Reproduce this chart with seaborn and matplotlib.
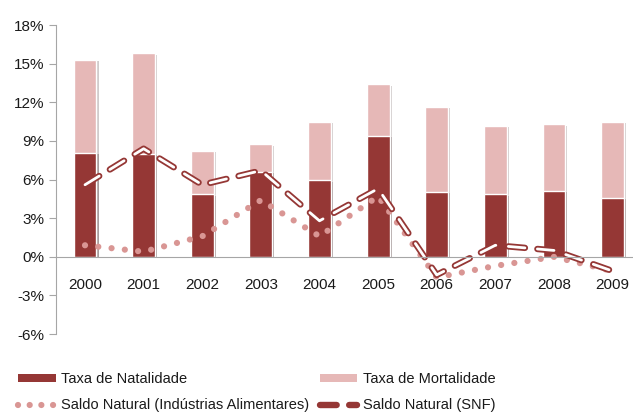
import numpy as np
import pandas as pd
import seaborn as sns
import matplotlib
matplotlib.use('Agg')
import matplotlib.pyplot as plt
import matplotlib.patheffects as pe
from matplotlib.patches import Patch
from matplotlib.lines import Line2D
from matplotlib.ticker import FuncFormatter, MultipleLocator

anos = ['2000', '2001', '2002', '2003', '2004', '2005', '2006', '2007', '2008', '2009']
natalidade = [8.1, 8.0, 4.85, 6.6, 5.95, 9.4, 5.05, 4.85, 5.15, 4.6]
mortalidade = [7.2, 7.8, 3.4, 2.15, 4.55, 4.0, 6.6, 5.35, 5.15, 5.9]
saldo_ia = [0.9, 0.4, 1.6, 4.4, 1.6, 4.7, -1.6, -0.7, 0.0, -1.1]
saldo_snf = [5.6, 8.4, 5.6, 6.7, 2.8, 5.3, -1.4, 0.9, 0.5, -1.1]

escuro = '#953735'
claro = '#E6B8B7'
rosa = '#D99694'

sns.set_style('white')
plt.rcParams['font.family'] = ['Liberation Sans', 'DejaVu Sans']
plt.rcParams['lines.scale_dashes'] = False

df = pd.DataFrame({'ano': anos, 'nat': natalidade, 'mort': mortalidade})
df['total'] = df['nat'] + df['mort']

fig = plt.figure(figsize=(6.33, 4.13), dpi=100)
ax = fig.add_axes([0.088, 0.191, 0.926, 0.7482])

sombra = [pe.SimplePatchShadow(offset=(1.5, -1.0), alpha=0.25), pe.Normal()]
sns.barplot(data=df, x='ano', y='total', color=claro, saturation=1, width=0.39,
            edgecolor='white', linewidth=1, ax=ax)
sns.barplot(data=df, x='ano', y='nat', color=escuro, saturation=1, width=0.39,
            edgecolor='white', linewidth=1, ax=ax)
for p in ax.patches:
    p.set_path_effects(sombra)

pos = np.arange(len(anos))
sns.lineplot(x=pos, y=saldo_ia, ax=ax, color=rosa, linewidth=4.5,
             linestyle=(0, (0.01, 9.6)), dash_capstyle='round')
sns.lineplot(x=pos, y=saldo_snf, ax=ax, color='white', linewidth=2.0,
             linestyle=(0, (12, 9)), dash_capstyle='round',
             path_effects=[pe.Stroke(linewidth=4.6, foreground=escuro), pe.Normal()])

ax.set_xlim(-0.5, 9.5)
ax.set_ylim(-6, 18)
ax.yaxis.set_major_locator(MultipleLocator(3))
ax.yaxis.set_major_formatter(FuncFormatter(lambda v, p: f'{int(round(v))}%'))
ax.set_xlabel('')
ax.set_ylabel('')

for s in ['top', 'right']:
    ax.spines[s].set_visible(False)
ax.spines['left'].set_color('#a6a6a6')
ax.spines['bottom'].set_color('#a6a6a6')
ax.spines['bottom'].set_position(('data', 0))

ax.set_xticks(pos)
ax.set_xticklabels(anos)
ax.set_xticks(pos[:-1] + 0.5, minor=True)
ax.tick_params(axis='x', which='major', length=0, pad=15, labelsize=11, colors='#1a1a1a')
ax.tick_params(axis='x', which='minor', length=5, color='#a6a6a6', direction='out')
ax.tick_params(axis='y', length=5, color='#a6a6a6', direction='out', left=True,
               labelsize=11, labelcolor='#1a1a1a', pad=3)

handles = [
    Patch(facecolor=escuro, edgecolor='none'),
    Line2D([0], [0], color=rosa, linewidth=4.5, linestyle=(0, (0.01, 8.4)),
           dash_capstyle='round'),
    Patch(facecolor=claro, edgecolor='none'),
    Line2D([0], [0], color=escuro, linewidth=4.6, linestyle=(0, (12, 9)),
           dash_capstyle='round'),
]
labels = ['Taxa de Natalidade', 'Saldo Natural (Indústrias Alimentares)',
          'Taxa de Mortalidade', 'Saldo Natural (SNF)']
fig.legend(handles, labels, ncol=2, loc='lower left', bbox_to_anchor=(0.008, -0.03),
           frameon=False, fontsize=10.5, handlelength=2.6, handleheight=0.5,
           handletextpad=0.35, columnspacing=0.7, labelspacing=0.85,
           labelcolor='#1a1a1a')

fig.savefig('out.png', dpi=100)
